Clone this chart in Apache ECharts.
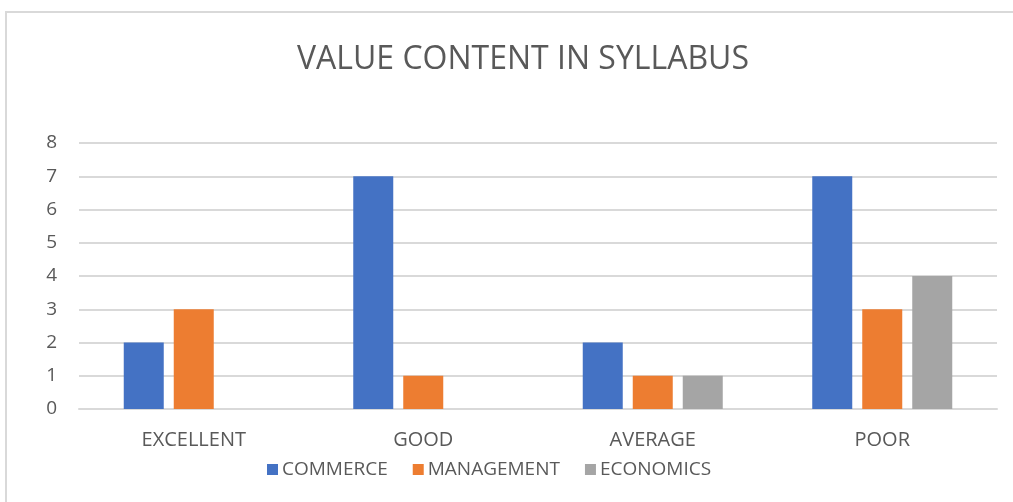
<!DOCTYPE html>
<html>
<head>
<meta charset="utf-8">
<script src="https://cdn.jsdelivr.net/npm/echarts@6/dist/echarts.min.js"></script>
<style>
  html, body { margin: 0; padding: 0; background: #fff; }
  #chart { width: 1013px; height: 502px; }
</style>
</head>
<body>
<div id="chart"></div>
<script>
var categories = ['EXCELLENT', 'GOOD', 'AVERAGE', 'POOR'];
var commerce = [2, 7, 2, 7];
var management = [3, 1, 1, 3];
var economics = [0, 0, 1, 4];
var yTicks = [0, 8, 1]; // min, max, interval

var chartDom = document.getElementById('chart');
var myChart = echarts.init(chartDom);
var font = '"Open Sans", sans-serif';
var option = {
  animation: false,
  color: ['#4472c4', '#ed7d31', '#a5a5a5'],
  graphic: [{
    type: 'rect',
    shape: { x: 6, y: 12, width: 1030, height: 520 },
    style: { fill: 'none', stroke: '#d9d9d9', lineWidth: 2 }
  }],
  title: {
    text: 'VALUE CONTENT IN SYLLABUS',
    left: 292,
    top: 39,
    textStyle: { fontFamily: font, fontSize: 32, fontWeight: 'normal', color: '#595959' }
  },
  legend: {
    top: 455,
    left: 262,
    itemWidth: 11,
    itemHeight: 11,
    itemGap: 25,
    icon: 'rect',
    textStyle: { fontFamily: font, fontSize: 19, color: '#595959', padding: [0, 0, 0, -1] },
    data: ['COMMERCE', 'MANAGEMENT', 'ECONOMICS']
  },
  grid: { left: 79, right: 16, top: 143, bottom: 93, containLabel: false },
  xAxis: {
    type: 'category',
    data: categories,
    axisLine: { lineStyle: { color: '#d9d9d9', width: 2 } },
    axisTick: { show: false },
    axisLabel: { fontFamily: font, fontSize: 20, color: '#595959', margin: 21 }
  },
  yAxis: {
    type: 'value',
    min: yTicks[0],
    max: yTicks[1],
    interval: yTicks[2],
    axisLine: { show: false },
    axisTick: { show: false },
    splitLine: { lineStyle: { color: '#d9d9d9', width: 2 } },
    axisLabel: { fontFamily: font, fontSize: 19, color: '#595959', margin: 22 }
  },
  series: [
    { name: 'COMMERCE', type: 'bar', data: commerce, barWidth: 40, barGap: '25%' },
    { name: 'MANAGEMENT', type: 'bar', data: management, barWidth: 40, barGap: '25%' },
    { name: 'ECONOMICS', type: 'bar', data: economics, barWidth: 40, barGap: '25%' }
  ]
};
option && myChart.setOption(option);
</script>
</body>
</html>
